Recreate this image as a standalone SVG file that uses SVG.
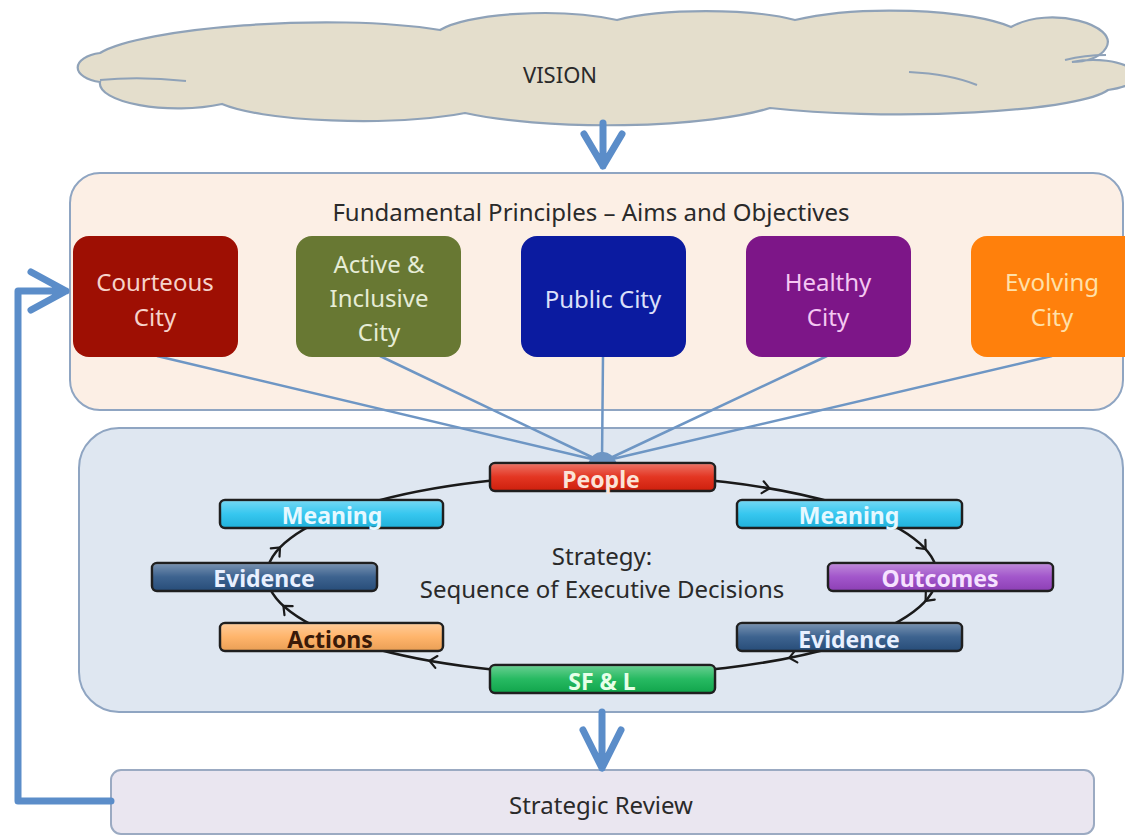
<svg xmlns="http://www.w3.org/2000/svg" width="1125" height="836" viewBox="0 0 1125 836">
  <defs>
    <style>
      text { font-family: "Noto Sans", "Open Sans", sans-serif; }
      .frame { stroke: #8FA5C2; stroke-width: 2; }
      .label { font-size: 24px; fill: #2a2a2a; text-anchor: middle; }
      .city { stroke: none; }
      .cityText { font-size: 24px; text-anchor: middle; }
      .bar { stroke: #1f1f1f; stroke-width: 2.5; }
      .barText { font-size: 23px; font-weight: bold; text-anchor: middle; }
      .thick { fill: none; stroke: #5B8DC9; stroke-width: 7; stroke-linecap: round; stroke-linejoin: round; }
      .spoke { stroke: #6E96C4; stroke-width: 2.5; fill: none; }
      .loop { fill: none; stroke: #1a1a1a; stroke-width: 2.5; }
      .tick { fill: none; stroke: #1a1a1a; stroke-width: 2.2; stroke-linecap: round; stroke-linejoin: miter; }
    </style>
    <linearGradient id="gloss" x1="0" y1="0" x2="0" y2="1">
      <stop offset="0" stop-color="#ffffff" stop-opacity="0.35"/>
      <stop offset="0.5" stop-color="#ffffff" stop-opacity="0.08"/>
      <stop offset="1" stop-color="#000000" stop-opacity="0.08"/>
    </linearGradient>
    <path id="chev" d="M -7 -6 L 0 0 L -7 6"/>
  </defs>

  <rect width="1125" height="836" fill="#ffffff"/>

  <!-- Vision cloud -->
  <g id="vision">
    <path d="M 100 82 A 30 15 0 0 1 100 53 C 140 28 330 12 440 30 A 111 27 0 0 1 617 20 A 111 22 0 0 1 795 20 A 135 31 0 0 1 1011 27 C 1050 5 1120 25 1106 48 C 1100 58 1085 62 1072 62 C 1120 52 1170 80 1108 90 A 212 30 0 0 1 770 108 A 190 36 0 0 1 465 113 A 152 29 0 0 1 222 104 A 78 25 0 0 1 100 82 Z"
          fill="#E4DECC" stroke="#8FA2B8" stroke-width="2.2"/>
    <path d="M 100 80 Q 140 76 186 81 M 909 72 Q 950 74 977 85 M 1065 60 Q 1085 55 1106 55" fill="none" stroke="#8FA2B8" stroke-width="2"/>
    <text class="label" x="560" y="83" style="font-size:22px">VISION</text>
  </g>

  <!-- Principles panel -->
  <g id="principles">
    <rect class="frame" x="70" y="173" width="1053" height="237" rx="30" fill="#FCEFE5"/>
    <text class="label" x="591" y="221">Fundamental Principles – Aims and Objectives</text>
  </g>

  <!-- Strategy panel -->
  <g id="strategy">
    <rect class="frame" x="79" y="428" width="1044" height="284" rx="40" fill="#DFE7F1"/>
    <text class="label" x="602" y="565">Strategy:</text>
    <text class="label" x="602" y="598">Sequence of Executive Decisions</text>
  </g>

  <!-- Strategic review -->
  <g id="review">
    <rect x="111" y="770" width="983" height="64" rx="10" fill="#EAE6F0" stroke="#9BAAC2" stroke-width="2"/>
    <text class="label" x="601" y="814">Strategic Review</text>
  </g>

  <!-- Connectors -->
  <g id="connectors">
    <path class="thick" d="M 603 123 V 166 M 584 134 L 603 166 L 622 134"/>
    <path class="thick" d="M 602 712 V 768 M 583 730 L 602 768 L 621 730"/>
    <path class="thick" d="M 111 801 H 18 V 291 H 66 M 31 272 L 66 291 L 31 310"/>
    <path class="spoke" d="M 157 356 L 600 461 M 380 356 L 600 461 M 603 356 L 602 461 M 827 356 L 604 461 M 1052 356 L 604 461"/>
    <path d="M 588 463 Q 594 451 602 452 Q 611 451 617 463 Z" fill="#6E96C4"/>
    <ellipse class="loop" cx="602" cy="575" rx="335" ry="100"/>
    <use href="#chev" class="tick" transform="translate(769.5 488.4) rotate(9.8)"/>
    <use href="#chev" class="tick" transform="translate(925.6 549.1) rotate(48.1)"/>
    <use href="#chev" class="tick" transform="translate(925.6 600.9) rotate(131.9)"/>
    <use href="#chev" class="tick" transform="translate(789.3 657.9) rotate(168.6)"/>
    <use href="#chev" class="tick" transform="translate(429.5 660.7) rotate(190.2)"/>
    <use href="#chev" class="tick" transform="translate(283.4 605.9) rotate(222.6)"/>
    <use href="#chev" class="tick" transform="translate(280 547.4) rotate(-46.2)"/>
  </g>

  <!-- City principles -->
  <g id="courteous">
    <rect class="city" x="73" y="236" width="165" height="121" rx="16" fill="#9E0F03"/>
    <text class="cityText" x="155" y="291" fill="#F6D3CB">Courteous</text>
    <text class="cityText" x="155" y="326" fill="#F6D3CB">City</text>
  </g>
  <g id="active">
    <rect class="city" x="296" y="236" width="165" height="121" rx="16" fill="#687833"/>
    <text class="cityText" x="379" y="273" fill="#E6ECD6">Active &amp;</text>
    <text class="cityText" x="379" y="307" fill="#E6ECD6">Inclusive</text>
    <text class="cityText" x="379" y="341" fill="#E6ECD6">City</text>
  </g>
  <g id="public">
    <rect class="city" x="521" y="236" width="165" height="121" rx="16" fill="#0B1BA0"/>
    <text class="cityText" x="603" y="308" fill="#DCE0FA">Public City</text>
  </g>
  <g id="healthy">
    <rect class="city" x="746" y="236" width="165" height="121" rx="16" fill="#7D1688"/>
    <text class="cityText" x="828" y="291" fill="#F4C8F2">Healthy</text>
    <text class="cityText" x="828" y="326" fill="#F4C8F2">City</text>
  </g>
  <g id="evolving">
    <rect class="city" x="971" y="236" width="170" height="121" rx="16" fill="#FF800C"/>
    <text class="cityText" x="1052" y="291" fill="#FFE0AA">Evolving</text>
    <text class="cityText" x="1052" y="326" fill="#FFE0AA">City</text>
  </g>

  <!-- Decision sequence -->
  <g id="people">
    <rect class="bar" x="490" y="463" width="225" height="28" rx="5" fill="#E1240F"/>
    <rect x="491" y="464" width="223" height="26" rx="4" fill="url(#gloss)"/>
    <text class="barText" x="601" y="488" fill="#FBE3D8">People</text>
  </g>
  <g id="meaning-left">
    <rect class="bar" x="220" y="500" width="223" height="28" rx="5" fill="#25C2EE"/>
    <rect x="221" y="501" width="221" height="26" rx="4" fill="url(#gloss)"/>
    <text class="barText" x="332" y="524" fill="#E6F8FF">Meaning</text>
  </g>
  <g id="meaning-right">
    <rect class="bar" x="737" y="500" width="225" height="28" rx="5" fill="#25C2EE"/>
    <rect x="738" y="501" width="223" height="26" rx="4" fill="url(#gloss)"/>
    <text class="barText" x="849" y="524" fill="#E6F8FF">Meaning</text>
  </g>
  <g id="evidence-left">
    <rect class="bar" x="152" y="563" width="225" height="28" rx="5" fill="#2C5585"/>
    <rect x="153" y="564" width="223" height="26" rx="4" fill="url(#gloss)"/>
    <text class="barText" x="264" y="587" fill="#E8F0FF">Evidence</text>
  </g>
  <g id="outcomes">
    <rect class="bar" x="828" y="563" width="225" height="28" rx="5" fill="#9A47C6"/>
    <rect x="829" y="564" width="223" height="26" rx="4" fill="url(#gloss)"/>
    <text class="barText" x="940" y="587" fill="#F6E2FF">Outcomes</text>
  </g>
  <g id="actions">
    <rect class="bar" x="220" y="623" width="223" height="28" rx="5" fill="#FFAE5E"/>
    <rect x="221" y="624" width="221" height="26" rx="4" fill="url(#gloss)"/>
    <text class="barText" x="330" y="648" fill="#3A1A08">Actions</text>
  </g>
  <g id="evidence-right">
    <rect class="bar" x="737" y="623" width="225" height="28" rx="5" fill="#2C5585"/>
    <rect x="738" y="624" width="223" height="26" rx="4" fill="url(#gloss)"/>
    <text class="barText" x="849" y="648" fill="#E8F0FF">Evidence</text>
  </g>
  <g id="sfl">
    <rect class="bar" x="490" y="665" width="225" height="28" rx="5" fill="#14B454"/>
    <rect x="491" y="666" width="223" height="26" rx="4" fill="url(#gloss)"/>
    <text class="barText" x="602" y="690" fill="#E6FFE8">SF &amp; L</text>
  </g>
</svg>
